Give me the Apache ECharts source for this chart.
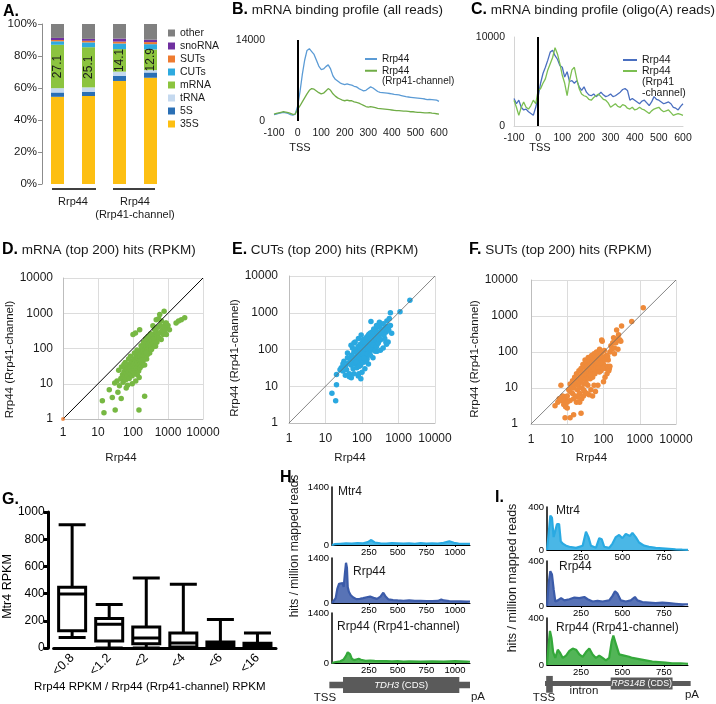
<!DOCTYPE html>
<html><head><meta charset="utf-8">
<script src="https://cdn.jsdelivr.net/npm/echarts@6/dist/echarts.min.js"></script>
<style>html,body{margin:0;padding:0;background:#fff}#c{width:716px;height:704px}</style>
</head><body><div id="c"></div>
<script>
// ================= DATA =================
// Panel A: stacked composition (%)
const aCategories = ['Rrp44 #1','Rrp44 #2','Rrp41-ch #1','Rrp41-ch #2'];
const aGroupLabels = ['Rrp44','Rrp44\n(Rrp41-channel)'];
const aTypes = ['35S','5S','tRNA','mRNA','CUTs','SUTs','snoRNA','other'];
const a35S    = [54.5, 55.0, 64.4, 66.4];
const a5S     = [2.7, 2.5, 3.1, 3.3];
const aTRNA   = [2.7, 2.9, 2.7, 1.5];
const aMRNA   = [27.1, 25.1, 14.1, 12.9];
const aCUTs   = [2.2, 3.0, 3.5, 3.3];
const aSUTs   = [0.8, 1.0, 1.2, 1.3];
const aSnoRNA = [1.3, 1.2, 1.9, 1.5];
const aOther  = [8.7, 9.3, 9.1, 9.8];

// Panels B, C: binding profiles (positions -100..600 step 10)
const profileX = Array.from({length:71}, (_, i) => -100 + 10*i);
const bRrp44 = [1100,1200,1300,1400,1500,1400,1300,1100,1000,1200,2500,5000,8000,10500,12200,12500,12000,11500,10500,9500,8900,9000,9400,9700,9000,7800,7200,6900,6600,6400,6300,6400,6300,6200,6000,5900,5600,5400,5200,5300,5600,5900,5700,5400,5100,4950,4900,4850,4800,4750,4700,4600,4550,4500,4400,4300,4200,4150,4100,4050,4000,3950,3900,3850,3800,3700,3750,3700,3650,3600,3400];
const bRrp41ch = [1200,1300,1400,1500,1600,1550,1450,1300,1150,1200,2000,2600,3300,4000,4700,5300,5600,5500,5200,4900,4700,4800,5200,5600,5300,4700,4300,4000,3800,3600,3500,3600,3500,3500,3300,3200,3100,2900,2700,2500,2400,2500,2400,2300,2200,2150,2100,2050,2000,1950,1900,1850,1800,1800,1750,1700,1700,1650,1600,1600,1550,1500,1500,1450,1400,1400,1450,1350,1300,1250,1200];
const cRrp44 = [3100,2500,2900,2100,1800,1900,1600,1400,1200,2100,3300,4800,5900,6600,7400,8300,8500,7900,7500,6800,6600,5500,6100,5000,5100,4800,5100,4400,4000,4400,3800,3500,3400,3600,3300,3500,3800,3500,3300,3400,3600,3300,3400,3600,3800,4100,4200,4000,2900,3100,2900,2700,2500,2800,2900,2600,2300,2700,3300,3000,2900,2700,2500,2600,2700,2500,2100,2000,1800,2200,2500];
const cRrp41ch = [2900,2100,1200,2100,2700,2100,1900,2300,2900,2500,4000,4200,4800,5300,6300,7000,7700,8800,8100,7000,5700,4800,3400,5100,6300,6600,5300,4200,3600,3400,3300,3000,2900,3200,3400,3600,3300,3000,2900,2600,2100,2300,2500,2200,2100,2400,2300,2000,1900,2100,1800,1900,2100,1900,1800,1600,1400,1700,1900,2000,2100,1800,1600,1700,1800,1500,1200,1300,1400,1300,1200];

// Panels D, E, F: scatter [Rrp44, Rrp44 (Rrp41-channel)] RPKM
const dMRNA = [[14.8,1.5],[13.3,3.3],[31,1.8],[148,1.8],[215,4.4],[21,6.8],[25.6,4.1],[37,5.7],[46,3.8],[30,10.5],[41,8.8],[64,7.6],[39,24],[35,12],[45,14],[50,18],[52,11],[55,22],[58,16],[60,28],[62,13],[65,20],[68,25],[70,17],[72,30],[75,22],[78,14],[80,35],[82,26],[85,19],[88,40],[90,24],[92,30],[95,17],[98,45],[100,33],[102,22],[105,27],[108,38],[110,50],[112,20],[115,30],[118,42],[120,25],[122,60],[125,35],[128,28],[130,48],[133,18],[135,40],[138,65],[140,30],[143,52],[145,23],[148,36],[150,75],[155,44],[158,28],[160,58],[165,38],[168,90],[170,47],[175,32],[178,70],[180,55],[185,105],[188,40],[190,62],[195,85],[200,48],[205,120],[210,70],[215,34],[220,95],[225,58],[230,140],[235,80],[240,110],[245,50],[250,160],[255,90],[260,68],[270,130],[280,100],[290,180],[300,75],[310,150],[320,210],[330,120],[340,95],[350,170],[360,240],[375,140],[390,200],[400,115],[420,260],[440,180],[460,300],[480,150],[500,230],[520,400],[550,200],[580,280],[600,450],[640,180],[680,330],[720,250],[760,420],[800,300],[850,520],[900,250],[950,380],[1000,450],[1100,340],[460,650],[580,920],[775,1140],[370,445],[155,340],[100,250],[1700,530],[2400,650],[3000,740],[2000,600],[890,530],[440,115],[190,48],[240,74],[330,93],[85,60],[110,75],[60,40],[75,50],[47,30],[55,35],[130,90],[170,120],[200,150],[230,185],[270,220],[320,260],[410,350],[650,600],[540,700],[118,275],[95,10],[120,12],[70,9],[150,15]];
const dOrigin = [[1,1]];
const eCUTs = [[2050,2200],[1100,1070],[600,1000],[650,275],[15,6.5],[19,4],[20,11],[51,17],[79,19],[93,16],[82,22],[20,21],[27,32],[30,26],[32,48],[35,35],[38,28],[40,60],[42,42],[45,22],[47,55],[50,38],[52,70],[55,45],[57,30],[60,85],[62,55],[65,40],[67,100],[70,65],[72,32],[75,50],[78,120],[80,75],[82,45],[85,90],[88,60],[90,140],[92,38],[95,80],[98,105],[100,55],[103,160],[105,95],[108,70],[110,125],[112,45],[115,85],[118,180],[120,110],[122,65],[125,145],[128,90],[130,200],[133,75],[135,130],[138,55],[140,170],[145,100],[148,240],[150,140],[155,80],[160,190],[165,120],[170,280],[175,160],[180,95],[185,220],[190,140],[200,300],[205,180],[210,110],[220,250],[230,170],[240,350],[250,210],[260,140],[270,300],[280,230],[300,420],[310,280],[320,180],[340,360],[360,260],[380,500],[400,320],[420,200],[440,420],[460,300],[480,600],[500,420],[520,160],[540,340],[560,700],[600,450],[450,160],[470,140],[380,110],[320,95],[260,90],[200,60],[150,40],[120,30],[100,24],[60,22],[45,18],[35,20],[25,28],[30,40],[40,80],[55,110],[65,160],[80,200],[95,250],[110,190],[60,150],[50,130],[70,45],[85,35],[130,48],[90,110],[75,85],[105,75],[115,60],[140,75],[160,110],[180,160],[200,130],[230,90],[250,120],[280,150],[300,200],[350,300],[400,250],[120,160],[135,220],[155,260],[170,200],[190,300],[210,360],[250,450],[300,550],[170,70],[176,575]];
const fSUTs = [[1250,1700],[600,700],[315,530],[230,205],[230,410],[89,215],[4.6,3.2],[8.7,1.5],[12,1.5],[15,1.8],[24,2],[10,2.8],[8.3,5.7],[6.7,12],[5.5,4],[6,5],[7,4.5],[7.5,6],[8,3.5],[9,5],[9.5,4.2],[10,6],[11,9],[12,13],[12,8],[13,11],[14,16],[14,7],[15,10],[16,20],[16,13],[17,6],[18,15],[18,25],[19,9],[20,18],[20,12],[21,30],[22,14],[22,7],[23,22],[24,35],[25,17],[25,10],[26,27],[27,45],[28,20],[28,6],[29,13],[30,38],[30,25],[31,60],[32,18],[33,30],[34,50],[35,22],[36,40],[37,12],[38,70],[38,32],[40,25],[40,55],[42,45],[43,18],[44,65],[45,35],[46,28],[47,80],[48,50],[50,40],[50,20],[52,65],[53,30],[55,90],[56,48],[58,25],[60,70],[62,38],[64,100],[65,55],[67,30],[70,85],[72,45],[75,60],[78,120],[80,40],[82,75],[85,30],[88,95],[90,55],[92,200],[95,70],[100,45],[105,110],[110,20],[115,35],[120,80],[125,25],[130,40],[135,60],[140,30],[145,35],[150,100],[160,150],[170,120],[180,180],[190,250],[200,130],[220,180],[240,230],[260,300],[280,220],[300,200],[250,120],[200,90],[150,40],[100,15],[70,12],[60,8],[50,6],[40,6.5],[30,8],[35,7],[45,9],[55,12],[25,5],[20,5.5],[18,4],[15,5],[12,4.5],[10,4],[9,3],[22,4],[28,9],[33,14],[38,19],[43,23],[57,33],[63,42],[68,50],[73,36],[77,28],[86,50],[95,35],[110,60],[130,75]];

// Panel G: boxplot [min, Q1, median, Q3, max]
const gCategories = ['<0.8','<1.2','<2','<4','<6','<16'];
const gBoxes = [[77,126,397,446,906],[0,52,175,217,320],[0,32,74,155,515],[0,7,37,111,468],[0,10,25,45,210],[0,8,18,35,110]];

// Panel H: TDH3 coverage [position, hits/million]
const hTicks = [250,500,750,1000];
const hMtr4 = [[-72,0],[-50,20],[0,30],[50,40],[100,35],[150,45],[200,40],[240,70],[270,120],[300,60],[350,40],[400,35],[450,45],[500,40],[550,35],[600,40],[650,30],[700,45],[750,35],[800,40],[850,35],[900,50],[950,90],[990,55],[1030,35],[1080,30],[1130,25]];
const hRrp44 = [[-72,0],[-60,20],[-40,150],[-25,450],[-10,600],[5,550],[20,620],[30,500],[40,900],[50,1250],[58,1100],[65,500],[75,350],[90,250],[110,180],[140,120],[170,130],[200,150],[230,180],[260,200],[290,160],[320,130],[350,200],[375,320],[395,200],[420,110],[460,90],[500,80],[550,70],[600,80],[650,65],[700,70],[750,60],[800,60],[850,65],[880,110],[900,80],[950,60],[1000,55],[1050,50],[1100,45],[1130,40]];
const hRrp41ch = [[-72,0],[-50,20],[0,50],[30,100],[50,200],[65,300],[75,320],[85,250],[100,120],[120,80],[140,100],[160,120],[180,90],[220,60],[260,70],[300,60],[350,50],[400,55],[450,45],[500,50],[550,40],[600,45],[700,40],[800,45],[900,40],[1000,50],[1100,40],[1130,35]];
const hGeneParts = [[-95,1130,0],[24,1037,1]];
const hGeneName = 'TDH3';

// Panel I: RPS14B coverage
const iTicks = [250,500,750];
const iMtr4 = [[45,0],[55,150],[65,320],[75,300],[85,120],[95,180],[105,240],[118,240],[128,80],[140,60],[160,40],[180,30],[220,20],[260,40],[280,170],[295,120],[310,40],[340,20],[360,110],[375,100],[390,30],[420,20],[440,60],[460,120],[480,140],[500,110],[520,150],[545,130],[560,160],[580,120],[600,70],[630,40],[660,30],[700,20],[740,15],[780,10],[820,5],[860,3],[895,2]];
const iRrp44 = [[45,0],[55,200],[65,310],[75,280],[85,150],[95,40],[110,50],[130,70],[150,50],[180,60],[210,75],[240,70],[270,80],[290,60],[320,40],[350,45],[380,40],[420,50],[440,90],[455,130],[470,110],[490,50],[520,40],[550,50],[575,80],[590,50],[620,35],[660,30],[700,25],[740,30],[780,25],[820,20],[860,15],[895,15]];
const iRrp41ch = [[45,0],[55,180],[63,290],[72,230],[82,110],[95,60],[110,130],[125,100],[140,60],[160,80],[180,120],[200,140],[220,130],[240,90],[260,70],[280,110],[300,140],[320,90],[340,60],[360,80],[380,60],[400,40],[420,60],[435,200],[445,250],[460,180],[480,90],[510,80],[540,70],[560,60],[600,50],[640,40],[680,30],[720,25],[760,20],[800,15],[850,15],[895,10]];
const iGeneParts = [[33,911,0],[429,802,1],[40,80,2]];
const iGeneName = 'RPS14B';

// ================= BUILD =================
const FONT = '"Liberation Sans", Arial, Helvetica, sans-serif';
const TXT = '#1a1a1a';
const plain = v => String(Math.round(v * 1000) / 1000);
const grids = [], xAxes = [], yAxes = [], series = [];
function push(list, o){ list.push(o); return list.length - 1; }
const zip = (xs, ys) => xs.map((x, i) => [x, ys[i]]);

// ---- A ----
const gA = push(grids, {left:42, top:24, width:124, height:160});
const xA = push(xAxes, {gridIndex:gA, type:'category', position:'top', data:aCategories, axisLine:{show:false}, axisTick:{show:false}, axisLabel:{show:false}});
push(xAxes, {gridIndex:gA, type:'category', position:'bottom', data:aGroupLabels, axisLine:{show:false}, axisTick:{show:false}, axisLabel:{interval:0, fontSize:11, color:TXT, margin:12, lineHeight:12.5}});
const yA = push(yAxes, {gridIndex:gA, type:'value', min:0, max:100, interval:20, axisLine:{show:true, lineStyle:{color:'#8c8c8c'}}, axisTick:{show:true, length:4, lineStyle:{color:'#8c8c8c'}}, splitLine:{show:false}, axisLabel:{formatter:'{value}%', fontSize:11.5, color:TXT, margin:5}});
const aColors = {'35S':'#fdbf12','5S':'#2a6fb5','tRNA':'#c5d9ef','mRNA':'#8cc43f','CUTs':'#2eaadf','SUTs':'#ee7b30','snoRNA':'#7030a0','other':'#808080'};
const aValues = {'35S':a35S,'5S':a5S,'tRNA':aTRNA,'mRNA':aMRNA,'CUTs':aCUTs,'SUTs':aSUTs,'snoRNA':aSnoRNA,'other':aOther};
aTypes.forEach(t => {
  series.push({type:'bar', name:t, stack:'a', xAxisIndex:xA, yAxisIndex:yA, barWidth:13, data:aValues[t],
    itemStyle:{color:aColors[t]},
    label: t === 'mRNA' ? {show:true, position:'inside', rotate:90, fontSize:12, color:TXT, formatter:p => p.value.toFixed(1)} : {show:false}});
});

// ---- B & C ----
function profileAxes(g, ymax, axisColor){
  const x = push(xAxes, {gridIndex:g, type:'value', min:-100, max:600, interval:100, axisLine:{show:!!axisColor, onZero:false, lineStyle:{color:axisColor||'#ddd'}}, axisTick:{show:false}, splitLine:{show:false}, axisLabel:{fontSize:10.5, color:TXT, margin:7, formatter:plain}});
  const y = push(yAxes, {gridIndex:g, type:'value', min:0, max:ymax, interval:ymax, axisLine:{show:!!axisColor, onZero:false, lineStyle:{color:axisColor||'#ddd'}}, axisTick:{show:false}, splitLine:{show:false}, axisLabel:{fontSize:10.5, color:TXT, margin:9, formatter:plain}});
  return [x, y];
}
const tssLine = {silent:true, symbol:'none', label:{show:false}, lineStyle:{color:'#000', width:2, type:'solid'}, data:[{xAxis:0}]};
const gB = push(grids, {left:274, top:40, width:165, height:81});
const [xB, yB] = profileAxes(gB, 14000, null);
series.push({type:'line', name:'Rrp44', xAxisIndex:xB, yAxisIndex:yB, data:zip(profileX, bRrp44), symbol:'none', lineStyle:{color:'#5b9bd5', width:1.3}, itemStyle:{color:'#5b9bd5'}});
series.push({type:'line', name:'Rrp44 (Rrp41-channel)', xAxisIndex:xB, yAxisIndex:yB, data:zip(profileX, bRrp41ch), symbol:'none', lineStyle:{color:'#70ad47', width:1.3}, itemStyle:{color:'#70ad47'}, markLine:tssLine});

const gC = push(grids, {left:514, top:37, width:169, height:89});
const [xC, yC] = profileAxes(gC, 10000, '#d4d4d4');
series.push({type:'line', name:'Rrp44 ', xAxisIndex:xC, yAxisIndex:yC, data:zip(profileX, cRrp44), symbol:'none', lineStyle:{color:'#4a6fc0', width:1.3}, itemStyle:{color:'#4a6fc0'}});
series.push({type:'line', name:'Rrp44 (Rrp41 -channel)', xAxisIndex:xC, yAxisIndex:yC, data:zip(profileX, cRrp41ch), symbol:'none', lineStyle:{color:'#7cbf52', width:1.3}, itemStyle:{color:'#7cbf52'}, markLine:tssLine});

// ---- D, E, F ----
function scatterPanel(rect, pts, color, diagColor, yGap, yPad, xGap, xMargin, yMargin){
  const g = push(grids, rect);
  const common = {type:'log', logBase:10, min:1, max:10000, axisTick:{show:false}, axisLine:{show:true, onZero:false, lineStyle:{color:'#bdbdbd'}}, splitLine:{show:true, lineStyle:{color:'#dcdcdc', width:1}}};
  const x = push(xAxes, Object.assign({gridIndex:g, name:'Rrp44', nameLocation:'middle', nameGap:xGap, nameTextStyle:{fontSize:11.5, color:TXT, padding:[0,24,0,0]}, axisLabel:{fontSize:12, color:TXT, margin:xMargin, formatter:plain}}, common));
  const y = push(yAxes, Object.assign({gridIndex:g, name:'Rrp44 (Rrp41-channel)', nameLocation:'middle', nameGap:yGap, nameTextStyle:{fontSize:11.5, color:TXT, padding:[0,yPad,0,0]}, axisLabel:{fontSize:12, color:TXT, margin:yMargin, formatter:plain}}, common));
  series.push({type:'scatter', xAxisIndex:x, yAxisIndex:y, data:pts, symbolSize:5.5, itemStyle:{color:color, opacity:1}, z:2});
  series.push({type:'line', xAxisIndex:x, yAxisIndex:y, data:[[1,1],[10000,10000]], symbol:'none', silent:true, lineStyle:{color:diagColor, width:diagColor === '#000' ? 1 : 0.8}, z:3});
  return [x, y];
}
const [xD, yD] = scatterPanel({left:63, top:278, width:140, height:141}, dMRNA, '#77b843', '#000', 42, 22, 33, 8, 10);
series.push({type:'scatter', xAxisIndex:xD, yAxisIndex:yD, data:dOrigin, symbolSize:4, itemStyle:{color:'#ee7b30'}, z:4});
scatterPanel({left:289, top:276, width:146, height:147}, eCUTs, '#2aa8e0', '#666', 41, 17, 29, 10, 11);
scatterPanel({left:531, top:280, width:145, height:144}, fSUTs, '#ee8a3a', '#666', 44, 14, 28, 10, 13);

// ---- G ----
const gG = push(grids, {left:50, top:512, width:226, height:136});
const xG = push(xAxes, {gridIndex:gG, type:'category', data:gCategories, name:'Rrp44 RPKM / Rrp44 (Rrp41-channel) RPKM', nameLocation:'middle', nameGap:25, nameTextStyle:{fontSize:11.5, color:'#000', padding:[0,30,0,0]},
  axisLine:{lineStyle:{color:'#000', width:3}}, axisTick:{alignWithLabel:true, length:5, lineStyle:{color:'#000', width:3}}, axisLabel:{interval:0, rotate:45, fontSize:12.5, color:'#000', margin:8}});
const yG = push(yAxes, {gridIndex:gG, type:'value', min:0, max:1000, interval:200, offset:5, name:'Mtr4 RPKM', nameLocation:'middle', nameGap:31, nameTextStyle:{fontSize:12.5, color:'#000', padding:[0,13,0,0]},
  axisLine:{show:true, onZero:false, lineStyle:{color:'#000', width:3}}, axisTick:{show:true, length:5, lineStyle:{color:'#000', width:3}}, splitLine:{show:false}, axisLabel:{fontSize:12, color:'#000', margin:4, formatter:plain}});
series.push({type:'boxplot', xAxisIndex:xG, yAxisIndex:yG, data:gBoxes, boxWidth:[27,27], itemStyle:{color:'#fff', borderColor:'#000', borderWidth:3}});

// ---- H & I tracks ----
function track(rect, xmin, xmax, ticks, ymax, data, color){
  const g = push(grids, rect);
  const x = push(xAxes, {gridIndex:g, type:'value', min:xmin, max:xmax, axisLine:{show:true, onZero:false, lineStyle:{color:'#000', width:1}}, axisTick:{show:true, customValues:ticks, length:2, lineStyle:{color:'#000'}}, splitLine:{show:false}, axisLabel:{customValues:ticks, fontSize:9.5, color:'#000', margin:2, formatter:plain}});
  const y = push(yAxes, {gridIndex:g, type:'value', min:0, max:ymax, interval:ymax, axisLine:{show:true, onZero:false, lineStyle:{color:'#000', width:1.5}}, axisTick:{show:false}, splitLine:{show:false}, axisLabel:{fontSize:9.5, color:'#000', margin:3, formatter:plain}});
  series.push({type:'line', xAxisIndex:x, yAxisIndex:y, data:data, symbol:'none', lineStyle:{color:color, width:2.2}, areaStyle:{color:color, opacity:0.85}, z:2});
}
track({left:332, top:487, width:138, height:58}, -72, 1130, hTicks, 1400, hMtr4, '#2aaae2');
track({left:332, top:558, width:138, height:45}, -72, 1130, hTicks, 1400, hRrp44, '#3b5ba9');
track({left:332, top:613, width:138, height:50}, -72, 1130, hTicks, 1400, hRrp41ch, '#34a83a');
track({left:547, top:507, width:141, height:43}, 45, 895, iTicks, 400, iMtr4, '#2aaae2');
track({left:547, top:561, width:141, height:45}, 45, 895, iTicks, 400, iRrp44, '#3b5ba9');
track({left:547, top:618, width:141, height:47}, 45, 895, iTicks, 400, iRrp41ch, '#34a83a');

// ---- gene diagrams ----
function gene(rect, xmin, xmax, parts, gname, fs){
  const g = push(grids, rect);
  const x = push(xAxes, {gridIndex:g, type:'value', min:xmin, max:xmax, show:false});
  const y = push(yAxes, {gridIndex:g, type:'value', min:0, max:1, show:false});
  series.push({type:'custom', xAxisIndex:x, yAxisIndex:y, data:parts, clip:false, silent:true,
    renderItem:(params, api) => {
      const s = api.value(0), e = api.value(1), k = api.value(2);
      const ys = k === 0 ? [0.3, 0.7] : (k === 1 ? [0, 1] : [-0.27, 1.13]);
      const p0 = api.coord([s, ys[1]]), p1 = api.coord([e, ys[0]]);
      const el = {type:'rect', shape:{x:p0[0], y:p0[1], width:p1[0]-p0[0], height:p1[1]-p0[1]}, style:{fill:'#5a5a5a'}, z2: k};
      if (k === 1) {
        el.textContent = {style:{text:'{i|' + gname + '} (CDS)', rich:{i:{fontStyle:'italic', fontSize:fs, fill:'#fff'}}, fill:'#fff', fontSize:fs}};
        el.textConfig = {position:'inside'};
      }
      return el;
    }});
}
gene({left:332, top:677, width:138, height:16}, -72, 1130, hGeneParts, hGeneName, 9.5);
gene({left:547, top:677.5, width:141, height:12}, 45, 895, iGeneParts, iGeneName, 8.8);

// ---- titles ----
const rich = {b:{fontSize:16, fontWeight:'bold', color:'#000'}, n:{fontSize:13.5, color:TXT}};
function ttl(text, left, top){ return {text:text, left:left, top:top, padding:0, textStyle:{rich:rich, lineHeight:18, fontSize:13.5, fontWeight:'normal', color:TXT}}; }
const titles = [
  ttl('{b|A.}', 3, 3), ttl('{b|B.} {n|mRNA binding profile (all reads)}', 232, 1), ttl('{b|C.} {n|mRNA binding profile (oligo(A) reads)}', 471, 1),
  ttl('{b|D.} {n|mRNA (top 200) hits (RPKM)}', 2, 241), ttl('{b|E.} {n|CUTs (top 200) hits (RPKM)}', 232, 241), ttl('{b|F.} {n|SUTs (top 200) hits (RPKM)}', 469, 241),
  ttl('{b|G.}', 2, 491), ttl('{b|H.}', 280, 469), ttl('{b|I.}', 495, 489)
];

// ---- legends ----
// leading blank lines keep the first text line level with the legend line icon
const legendFmt = n => n === 'Rrp44 (Rrp41-channel)' ? '\nRrp44\n(Rrp41-channel)' : (n === 'Rrp44 (Rrp41 -channel)' ? '\n\nRrp44\n(Rrp41\n-channel)' : n.trim());
const lineLeg = (names, left, top, fs, lh, w) => ({data:names, orient:'vertical', left:left, top:top, padding:0, icon:'rect', itemWidth:w, itemHeight:2, selectedMode:false, formatter:legendFmt, textStyle:{fontSize:fs, lineHeight:lh, color:TXT}});
const legends = [
  {data:aTypes.slice().reverse(), orient:'vertical', left:168, top:27.5, padding:0, icon:'rect', itemWidth:7, itemHeight:7, itemGap:2, selectedMode:false, textStyle:{fontSize:10.5, lineHeight:9.5, color:TXT}},
  lineLeg(['Rrp44'], 365, 53.75, 10, 10.5, 12),
  lineLeg(['Rrp44 (Rrp41-channel)'], 365, 55, 10, 10.5, 12),
  lineLeg(['Rrp44 '], 623, 54.5, 10.5, 11, 14),
  lineLeg(['Rrp44 (Rrp41 -channel)'], 623, 43.5, 10.5, 11, 14)
];

// ---- annotations ----
const T = (text, x, y, fs, align, rot) => ({type:'text', x:x, y:y, rotation:rot || 0, silent:true, style:{text:text, fontSize:fs, fontFamily:FONT, fill:TXT, align:align || 'center', verticalAlign:'middle', textAlign:align || 'center', textVerticalAlign:'middle'}});
const graphic = [
  {type:'line', silent:true, shape:{x1:52, y1:189, x2:96, y2:189}, style:{stroke:'#000', lineWidth:1.5}},
  {type:'line', silent:true, shape:{x1:113, y1:189, x2:155, y2:189}, style:{stroke:'#000', lineWidth:1.5}},
  T('TSS', 300, 148, 11), T('TSS', 540, 148, 11),
  T('hits / million mapped reads', 295, 546, 12, 'center', Math.PI/2),
  T('hits / million mapped reads', 513, 578, 12.5, 'center', Math.PI/2),
  T('Mtr4', 338, 492, 12, 'left'), T('Rrp44', 353, 572, 12, 'left'), T('Rrp44 (Rrp41-channel)', 337, 627, 12, 'left'),
  T('Mtr4', 556, 511, 12, 'left'), T('Rrp44', 559, 567, 12, 'left'), T('Rrp44 (Rrp41-channel)', 556, 628, 12, 'left'),
  T('TSS', 325, 698, 11.5), T('pA', 478, 697, 11.5),
  T('TSS', 544, 698, 11.5), T('intron', 584, 691, 11.5), T('pA', 692, 695, 11.5)
];

const chart = echarts.init(document.getElementById('c'), null, {renderer:'canvas'});
chart.setOption({
  animation:false,
  backgroundColor:'#fff',
  textStyle:{fontFamily:FONT},
  title:titles,
  legend:legends,
  grid:grids,
  xAxis:xAxes,
  yAxis:yAxes,
  series:series,
  graphic:graphic
});
</script>
</body></html>
